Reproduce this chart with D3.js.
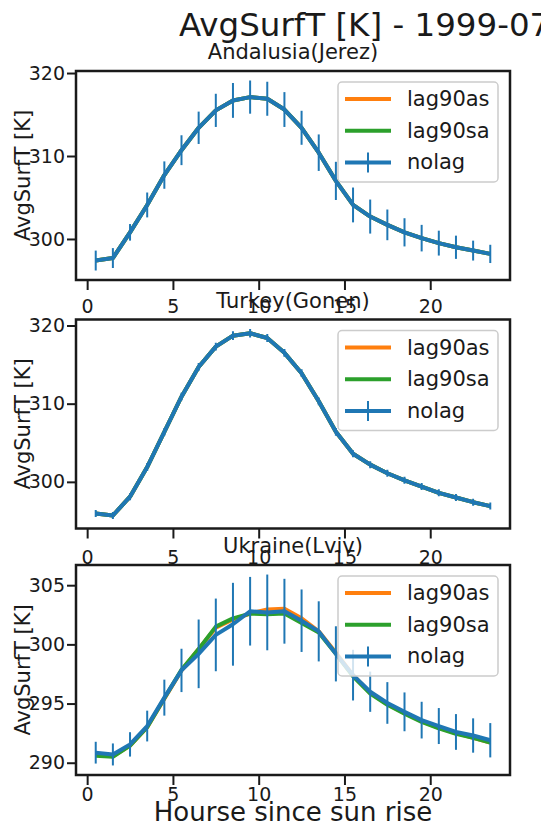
<!DOCTYPE html>
<html>
<head>
<meta charset="utf-8">
<script src="https://cdn.jsdelivr.net/npm/d3@7"></script>
<style>
  body { margin: 0; background: #fff; }
  text { font-family: "DejaVu Sans", sans-serif; fill: #1a1a1a; }
</style>
</head>
<body>
<script>
// hours since sun rise (bin centres)
var hours = [0.5, 1.5, 2.5, 3.5, 4.5, 5.5, 6.5, 7.5, 8.5, 9.5, 10.5, 11.5,
             12.5, 13.5, 14.5, 15.5, 16.5, 17.5, 18.5, 19.5, 20.5, 21.5, 22.5, 23.5];

var seriesNames = ["lag90as", "lag90sa", "nolag"];
var xTicks = [0, 5, 10, 15, 20];

// Andalusia (Jerez)
var jerezNolag = [297.4, 297.7, 300.8, 304.1, 307.7, 310.7, 313.4, 315.5, 316.7, 317.1, 316.9, 315.6,
                  313.4, 310.4, 307.0, 304.1, 302.7, 301.7, 300.8, 300.1, 299.5, 299.0, 298.6, 298.2];
var jerezErr = [1.2, 1.2, 1.0, 1.5, 1.65, 1.8, 1.95, 2.0, 2.1, 2.0, 2.05, 2.1,
                2.05, 2.2, 2.3, 2.1, 2.05, 1.85, 1.7, 1.6, 1.5, 1.4, 1.2, 1.1];
var jerezLag90as = [297.4, 297.7, 300.8, 304.1, 307.7, 310.7, 313.4, 315.5, 316.7, 317.1, 316.9, 315.6,
                    313.4, 310.4, 307.0, 304.1, 302.7, 301.7, 300.8, 300.1, 299.5, 299.0, 298.6, 298.2];
var jerezLag90sa = [297.4, 297.7, 300.8, 304.1, 307.7, 310.7, 313.4, 315.5, 316.7, 317.1, 316.9, 315.6,
                    313.4, 310.4, 307.0, 304.1, 302.7, 301.7, 300.8, 300.1, 299.5, 299.0, 298.6, 298.2];
var jerezYTicks = [300, 310, 320];

// Turkey (Gonen)
var gonenNolag = [295.95, 295.7, 298.1, 301.9, 306.4, 310.9, 314.7, 317.3, 318.7, 319.0, 318.4, 316.5,
                  313.9, 310.3, 306.4, 303.6, 302.2, 301.1, 300.2, 299.4, 298.6, 298.0, 297.4, 296.9];
var gonenErr = [0.45, 0.45, 0.45, 0.5, 0.5, 0.5, 0.5, 0.5, 0.55, 0.55, 0.5, 0.5,
                0.5, 0.5, 0.5, 0.45, 0.45, 0.45, 0.45, 0.45, 0.45, 0.45, 0.45, 0.45];
var gonenLag90as = [295.95, 295.7, 298.1, 301.9, 306.4, 310.9, 314.7, 317.3, 318.7, 319.0, 318.4, 316.5,
                    313.9, 310.3, 306.4, 303.6, 302.2, 301.1, 300.2, 299.4, 298.6, 298.0, 297.4, 296.9];
var gonenLag90sa = [295.95, 295.7, 298.1, 301.9, 306.4, 310.9, 314.7, 317.3, 318.7, 319.0, 318.4, 316.5,
                    313.9, 310.3, 306.4, 303.6, 302.2, 301.1, 300.2, 299.4, 298.6, 298.0, 297.4, 296.9];
var gonenYTicks = [300, 310, 320];

// Ukraine (Lviv)
var lvivNolag = [290.85, 290.7, 291.55, 293.1, 295.5, 297.8, 299.2, 300.8, 301.7, 302.8, 302.7, 302.8,
                 302.0, 301.1, 299.2, 297.4, 296.0, 295.05, 294.3, 293.6, 293.1, 292.6, 292.3, 291.9];
var lvivErr = [0.92, 0.93, 1.03, 1.3, 1.52, 1.83, 2.9, 3.07, 3.5, 2.9, 3.2, 2.74,
               2.64, 2.54, 2.33, 2.14, 1.7, 1.76, 1.64, 1.55, 1.52, 1.51, 1.45, 1.45];
var lvivLag90as = [290.7, 290.55, 291.45, 293.0, 295.4, 297.8, 299.6, 301.4, 302.1, 302.6, 302.95, 303.0,
                   302.2, 301.1, 299.3, 297.4, 295.9, 294.95, 294.2, 293.5, 292.95, 292.5, 292.1, 291.7];
var lvivLag90sa = [290.6, 290.5, 291.45, 293.0, 295.45, 297.85, 299.6, 301.5, 302.2, 302.6, 302.55, 302.6,
                   301.8, 301.0, 299.2, 297.3, 295.85, 294.9, 294.15, 293.45, 292.9, 292.45, 292.1, 291.7];
var lvivYTicks = [290, 295, 300, 305];

/***** Configuration *****/
var W = 541, H = 826;
var colors = {lag90as: "#ff7f0e", lag90sa: "#2ca02c", nolag: "#1f77b4"};
var frameColor = "#1a1a1a";
var left = 76, right = 510;

var panels = [
  {title: "Andalusia(Jerez)", top: 71, bottom: 280, labelPad: 10,
   lag90as: jerezLag90as, lag90sa: jerezLag90sa, nolag: jerezNolag, err: jerezErr, yTicks: jerezYTicks},
  {title: "Turkey(Gonen)", top: 319.5, bottom: 528.5, labelPad: 12,
   lag90as: gonenLag90as, lag90sa: gonenLag90sa, nolag: gonenNolag, err: gonenErr, yTicks: gonenYTicks},
  {title: "Ukraine(Lviv)", top: 565, bottom: 775, labelPad: 3,
   lag90as: lvivLag90as, lag90sa: lvivLag90sa, nolag: lvivNolag, err: lvivErr, yTicks: lvivYTicks}
];

var svg = d3.select("body").append("svg")
  .attr("width", W)
  .attr("height", H);

// matplotlib-like 5% auto margins
function padded(lo, hi) {
  var m = (hi - lo) * 0.05;
  return [lo - m, hi + m];
}

var x = d3.scaleLinear()
  .domain(padded(d3.min(hours), d3.max(hours)))
  .range([left, right]);

panels.forEach(function (p) {
  var lo = d3.min(p.nolag.map(function (v, i) { return v - p.err[i]; }).concat(p.lag90as, p.lag90sa));
  var hi = d3.max(p.nolag.map(function (v, i) { return v + p.err[i]; }).concat(p.lag90as, p.lag90sa));
  var y = d3.scaleLinear().domain(padded(lo, hi)).range([p.bottom, p.top]);

  var g = svg.append("g");

  var clipId = "clip" + Math.round(p.top);
  svg.append("clipPath").attr("id", clipId)
    .append("rect").attr("x", left).attr("y", p.top)
    .attr("width", right - left).attr("height", p.bottom - p.top);

  var plot = g.append("g").attr("clip-path", "url(#" + clipId + ")");

  var line = d3.line()
    .x(function (d, i) { return x(hours[i]); })
    .y(function (d) { return y(d); });

  ["lag90as", "lag90sa"].forEach(function (s) {
    plot.append("path")
      .datum(p[s])
      .attr("d", line)
      .attr("fill", "none")
      .attr("stroke", colors[s])
      .attr("stroke-width", 4)
      .attr("stroke-linejoin", "round");
  });

  // error bars
  plot.selectAll(".eb")
    .data(p.nolag)
    .enter().append("line")
    .attr("x1", function (d, i) { return x(hours[i]); })
    .attr("x2", function (d, i) { return x(hours[i]); })
    .attr("y1", function (d, i) { return y(d - p.err[i]); })
    .attr("y2", function (d, i) { return y(d + p.err[i]); })
    .attr("stroke", colors.nolag)
    .attr("stroke-width", 2);

  plot.append("path")
    .datum(p.nolag)
    .attr("d", line)
    .attr("fill", "none")
    .attr("stroke", colors.nolag)
    .attr("stroke-width", 4)
    .attr("stroke-linejoin", "round");

  /***** Axes *****/
  var yAxis = d3.axisLeft(y).tickValues(p.yTicks).tickSize(9).tickPadding(2);
  var gy = g.append("g").attr("transform", "translate(" + left + ",0)").call(yAxis);

  var xAxis = d3.axisBottom(x).tickValues(xTicks).tickSize(10).tickPadding(p.labelPad);
  var gx = g.append("g").attr("transform", "translate(0," + p.bottom + ")").call(xAxis);

  [gx, gy].forEach(function (a) {
    a.select(".domain").remove();
    a.selectAll(".tick line").attr("stroke", frameColor).attr("stroke-width", 2);
    a.selectAll(".tick text")
      .attr("font-family", "DejaVu Sans")
      .attr("font-size", 19)
      .attr("fill", frameColor);
  });

  // frame
  g.append("rect")
    .attr("x", left).attr("y", p.top)
    .attr("width", right - left).attr("height", p.bottom - p.top)
    .attr("fill", "none")
    .attr("stroke", frameColor)
    .attr("stroke-width", 2.5);

  // subplot title
  g.append("text")
    .attr("x", (left + right) / 2)
    .attr("y", p.top - 12)
    .attr("text-anchor", "middle")
    .attr("font-size", 21)
    .text(p.title);

  // y label
  g.append("text")
    .attr("transform", "translate(23," + (p.top + p.bottom) / 2 + ") rotate(-90)")
    .attr("text-anchor", "middle")
    .attr("dominant-baseline", "central")
    .attr("font-size", 21)
    .text("AvgSurfT [K]");

  /***** Legend *****/
  var lg = g.append("g").attr("transform", "translate(338," + (p.top + 11) + ")");
  lg.append("rect")
    .attr("width", 160).attr("height", 100).attr("rx", 4)
    .attr("fill", "#fff").attr("fill-opacity", 0.8)
    .attr("stroke", "#cccccc").attr("stroke-width", 1.5);

  seriesNames.forEach(function (s, i) {
    var cy = 17 + i * 31.7;
    lg.append("line")
      .attr("x1", 7).attr("x2", 53).attr("y1", cy).attr("y2", cy)
      .attr("stroke", colors[s]).attr("stroke-width", 4);
    if (s === "nolag") {
      lg.append("line")
        .attr("x1", 30).attr("x2", 30).attr("y1", cy - 10).attr("y2", cy + 10)
        .attr("stroke", colors[s]).attr("stroke-width", 2);
    }
    lg.append("text")
      .attr("x", 69).attr("y", cy)
      .attr("dominant-baseline", "central")
      .attr("font-size", 21)
      .text(s);
  });
});

/***** Figure texts *****/
svg.append("text")
  .attr("x", 179).attr("y", 36)
  .attr("font-size", 32.5)
  .text("AvgSurfT [K] - 1999-07");

svg.append("text")
  .attr("x", (left + right) / 2).attr("y", 821)
  .attr("text-anchor", "middle")
  .attr("font-size", 26)
  .text("Hourse since sun rise");
</script>
</body>
</html>
